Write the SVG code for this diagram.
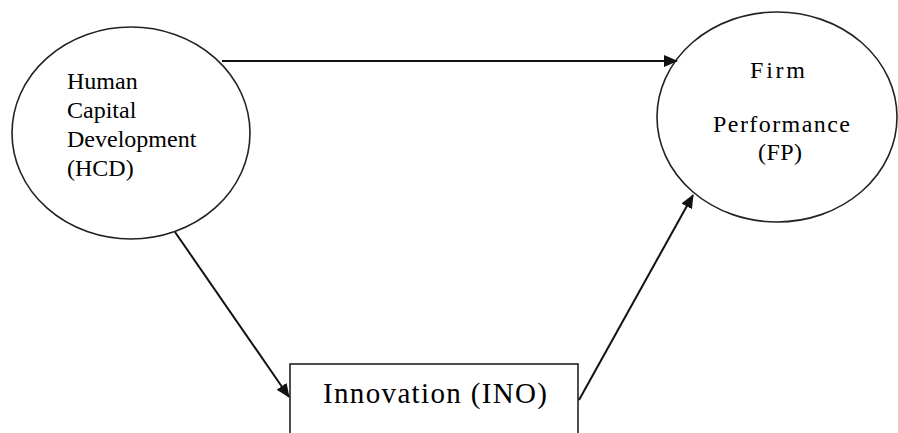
<svg xmlns="http://www.w3.org/2000/svg" width="898" height="433" viewBox="0 0 898 433">
  <style>
    .node { fill: #ffffff; stroke: #222222; stroke-width: 1.6; }
    .lbl { font-family: "Liberation Serif", "Times New Roman", serif; fill: #000000; }
    .conn { stroke: #111111; stroke-width: 2; fill: none; marker-end: url(#arrow); }
  </style>
  <defs>
    <marker id="arrow" markerWidth="14" markerHeight="12" refX="13" refY="6" orient="auto" markerUnits="userSpaceOnUse">
      <path d="M0,0 L14,6 L0,12 Z" fill="#111111"/>
    </marker>
  </defs>
  <rect width="898" height="433" fill="#ffffff"/>
  <g id="hcd">
    <ellipse class="node" cx="131" cy="133" rx="119" ry="106"/>
    <text class="lbl" font-size="24" x="67" y="89">Human</text>
    <text class="lbl" font-size="24" x="67" y="118">Capital</text>
    <text class="lbl" font-size="24" x="67" y="147">Development</text>
    <text class="lbl" font-size="24" x="67" y="176">(HCD)</text>
  </g>
  <g id="fp">
    <ellipse class="node" cx="777" cy="117" rx="120" ry="105"/>
    <text class="lbl" font-size="24" x="750" y="78" textLength="55" lengthAdjust="spacing">Firm</text>
    <text class="lbl" font-size="24" x="713" y="132" textLength="137" lengthAdjust="spacing">Performance</text>
    <text class="lbl" font-size="24" x="758" y="160" textLength="44" lengthAdjust="spacing">(FP)</text>
  </g>
  <g id="ino">
    <rect class="node" x="290" y="364" width="288" height="90"/>
    <text class="lbl" font-size="29" x="323" y="403" textLength="224" lengthAdjust="spacing">Innovation (INO)</text>
  </g>
  <g id="connectors">
    <line class="conn" x1="222" y1="61" x2="677" y2="61"/>
    <line class="conn" x1="175" y1="232" x2="289" y2="397"/>
    <line class="conn" x1="579" y1="400" x2="693" y2="195"/>
  </g>
</svg>
